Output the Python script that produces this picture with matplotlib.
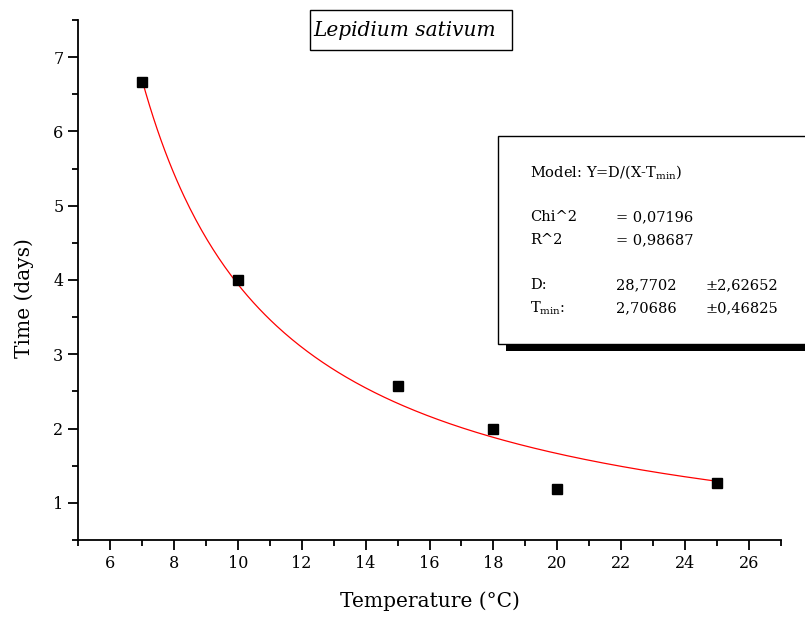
import numpy as np
import matplotlib
matplotlib.use("Agg")
import matplotlib.pyplot as plt
from matplotlib.patches import Rectangle
from matplotlib.ticker import MultipleLocator

plt.rcParams['font.family'] = ['DejaVu Serif']
plt.rcParams['mathtext.fontset'] = 'dejavuserif'

# measured data
temperature = [7, 10, 15, 18, 20, 25]
time_days = [6.67, 4.0, 2.57, 1.99, 1.19, 1.27]

# fit parameters shown in the box
D = 28.7702
T_min = 2.70686

W, H = 805, 623
fig = plt.figure(figsize=(W / 100, H / 100), dpi=100)
ax = fig.add_axes([78 / W, (H - 540) / H, (781 - 78) / W, (540 - 20) / H])

xf = np.linspace(min(temperature), max(temperature), 300)
ax.plot(xf, D / (xf - T_min), color='red', lw=0.9, zorder=2)
ax.plot(temperature, time_days, 's', color='black', ms=7.5, zorder=3)

ax.set_xlim(5, 27)
ax.set_ylim(0.5, 7.5)
ax.xaxis.set_minor_locator(MultipleLocator(1))
ax.yaxis.set_minor_locator(MultipleLocator(0.5))
ax.set_xticks(range(6, 27, 2))
ax.set_yticks(range(1, 8))
ax.tick_params(which='major', direction='out', length=7, width=1.3, labelsize=11.5, colors='black')
ax.tick_params(which='minor', direction='out', length=4, width=1.3)
for s in ['top', 'right']:
    ax.spines[s].set_visible(False)
for s in ['left', 'bottom']:
    ax.spines[s].set_linewidth(1.3)

ax.set_xlabel('Temperature (°C)', fontsize=14.5, labelpad=14)
ax.set_ylabel('Time (days)', fontsize=14.5)
ax.yaxis.set_label_coords(-0.063, (540 - 298) / 520)


def fx(px):
    return px / W


def fy(py):
    return 1 - py / H


# title box
fig.patches.append(Rectangle((fx(310), fy(50)), fx(512) - fx(310), fy(10) - fy(50),
                             transform=fig.transFigure, fc='white', ec='black', lw=1))
fig.text(fx(313), fy(30), 'Lepidium sativum', style='italic', fontsize=14.5,
         ha='left', va='center')

# fit results box with shadow
shadow = Rectangle((fx(506), fy(351)), fx(830) - fx(506), fy(143) - fy(351),
                   transform=fig.transFigure, fc='black', ec='none', zorder=4)
box = Rectangle((fx(498), fy(344)), fx(830) - fx(498), fy(136) - fy(344),
                transform=fig.transFigure, fc='white', ec='black', lw=1, zorder=5)
fig.patches.extend([shadow, box])

fs = 10.5
rows = [
    (172, 'Model: Y=D/(X-T$_{\\mathrm{min}}$)', None, None),
    (217, 'Chi^2', '= 0,07196', None),
    (240, 'R^2', '= 0,98687', None),
    (285, 'D:', '28,7702', '±2,62652'),
    (308, 'T$_{\\mathrm{min}}$:', '2,70686', '±0,46825'),
]
for y, c1, c2, c3 in rows:
    fig.text(fx(530), fy(y), c1, fontsize=fs, va='center', zorder=6)
    if c2:
        fig.text(fx(616), fy(y), c2, fontsize=fs, va='center', zorder=6)
    if c3:
        fig.text(fx(705), fy(y), c3, fontsize=fs, va='center', zorder=6)

fig.savefig('out.png', dpi=100)
